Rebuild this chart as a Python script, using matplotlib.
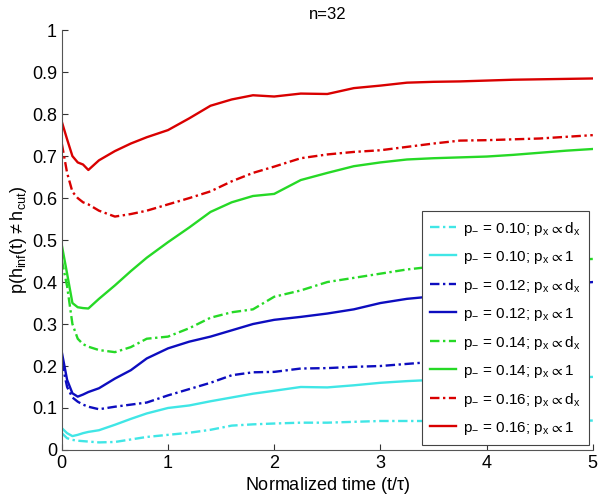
import numpy as np
import matplotlib
matplotlib.use("Agg")
import matplotlib.pyplot as plt

plt.rcParams['font.family'] = ['Liberation Sans', 'DejaVu Sans']
plt.rcParams['mathtext.default'] = 'regular'

# normalized time grid
t = [0, 0.05, 0.1, 0.15, 0.2, 0.25, 0.35, 0.5, 0.65, 0.8, 1.0, 1.2, 1.4, 1.6,
     1.8, 2.0, 2.25, 2.5, 2.75, 3.0, 3.25, 3.5, 3.75, 4.0, 4.25, 4.5, 4.75, 5.0]

# p_ = 0.10
c_dx = [0.040, 0.028, 0.024, 0.022, 0.021, 0.020, 0.018, 0.019, 0.025, 0.031, 0.036, 0.041, 0.048, 0.058,
        0.061, 0.063, 0.065, 0.065, 0.067, 0.069, 0.069, 0.069, 0.069, 0.070, 0.070, 0.070, 0.070, 0.070]
c_1 = [0.052, 0.040, 0.033, 0.036, 0.040, 0.043, 0.047, 0.060, 0.074, 0.087, 0.100, 0.106, 0.116, 0.125,
       0.134, 0.141, 0.150, 0.149, 0.154, 0.160, 0.164, 0.167, 0.168, 0.170, 0.171, 0.172, 0.173, 0.174]
# p_ = 0.12
b_dx = [0.210, 0.150, 0.125, 0.115, 0.108, 0.103, 0.097, 0.103, 0.108, 0.113, 0.130, 0.145, 0.160, 0.178,
        0.185, 0.186, 0.194, 0.195, 0.198, 0.200, 0.205, 0.210, 0.210, 0.210, 0.210, 0.210, 0.210, 0.210]
b_1 = [0.233, 0.167, 0.135, 0.127, 0.132, 0.138, 0.147, 0.170, 0.190, 0.218, 0.242, 0.258, 0.270, 0.285,
       0.300, 0.310, 0.317, 0.325, 0.335, 0.350, 0.360, 0.366, 0.372, 0.378, 0.384, 0.390, 0.395, 0.400]
# p_ = 0.14
g_dx = [0.452, 0.390, 0.300, 0.265, 0.252, 0.246, 0.238, 0.233, 0.245, 0.265, 0.270, 0.290, 0.315, 0.328,
        0.335, 0.365, 0.380, 0.400, 0.410, 0.420, 0.430, 0.437, 0.442, 0.445, 0.448, 0.450, 0.453, 0.455]
g_1 = [0.488, 0.420, 0.350, 0.340, 0.338, 0.337, 0.360, 0.392, 0.426, 0.458, 0.495, 0.530, 0.567, 0.590,
       0.605, 0.610, 0.643, 0.660, 0.676, 0.685, 0.692, 0.695, 0.697, 0.699, 0.703, 0.708, 0.713, 0.717]
# p_ = 0.16
r_dx = [0.730, 0.660, 0.615, 0.600, 0.590, 0.585, 0.570, 0.556, 0.562, 0.570, 0.585, 0.600, 0.616, 0.640,
        0.660, 0.675, 0.695, 0.704, 0.710, 0.714, 0.722, 0.730, 0.737, 0.738, 0.740, 0.742, 0.746, 0.750]
r_1 = [0.782, 0.740, 0.700, 0.685, 0.680, 0.667, 0.690, 0.712, 0.730, 0.745, 0.762, 0.790, 0.820, 0.835,
       0.845, 0.842, 0.849, 0.848, 0.862, 0.868, 0.875, 0.877, 0.878, 0.880, 0.882, 0.883, 0.884, 0.885]

cyan = (0.25, 0.9, 0.9)
blue = (0.05, 0.05, 0.75)
green = (0.15, 0.85, 0.15)
red = (0.85, 0.0, 0.0)
dd = (4, 1.5, 1, 1.5)

fig = plt.figure(figsize=(6, 4.95), dpi=100)
ax = fig.add_axes([0.103, 0.091, 0.885, 0.848])

ax.plot(t, c_dx, color=cyan, lw=1.7, dashes=dd, label=r'$p_{-}$ = 0.10; $p_x \propto d_x$')
ax.plot(t, c_1, color=cyan, lw=1.7, label=r'$p_{-}$ = 0.10; $p_x \propto 1$')
ax.plot(t, b_dx, color=blue, lw=1.7, dashes=dd, label=r'$p_{-}$ = 0.12; $p_x \propto d_x$')
ax.plot(t, b_1, color=blue, lw=1.7, label=r'$p_{-}$ = 0.12; $p_x \propto 1$')
ax.plot(t, g_dx, color=green, lw=1.7, dashes=dd, label=r'$p_{-}$ = 0.14; $p_x \propto d_x$')
ax.plot(t, g_1, color=green, lw=1.7, label=r'$p_{-}$ = 0.14; $p_x \propto 1$')
ax.plot(t, r_dx, color=red, lw=1.7, dashes=dd, label=r'$p_{-}$ = 0.16; $p_x \propto d_x$')
ax.plot(t, r_1, color=red, lw=1.7, label=r'$p_{-}$ = 0.16; $p_x \propto 1$')

ax.set_xlim(0, 5)
ax.set_ylim(0, 1)
ax.set_xticks([0, 1, 2, 3, 4, 5])
ax.set_yticks(np.arange(0, 1.01, 0.1))
ax.set_yticklabels(['0', '0.1', '0.2', '0.3', '0.4', '0.5', '0.6', '0.7', '0.8', '0.9', '1'])
ax.tick_params(direction='in', length=4, labelsize=13, colors='#333333', labelcolor='black')
ax.spines['top'].set_visible(False)
ax.spines['right'].set_visible(False)
for s in ['left', 'bottom']:
    ax.spines[s].set_color('#555555')

ax.set_xlabel(r'Normalized time (t/$\tau$)', fontsize=13, labelpad=2)
ax.set_ylabel(r'$p(h_{inf}(t) \neq h_{cut})$', fontsize=13, labelpad=2)
ax.set_title('n=32', fontsize=12, pad=8)

leg = ax.legend(loc='lower right', bbox_to_anchor=(0.992, 0.012), borderaxespad=0,
                fontsize=11, fancybox=False, framealpha=1, edgecolor='#444444',
                handlelength=1.7, handletextpad=0.45, labelspacing=0.72,
                borderpad=0.55)
leg.get_frame().set_linewidth(0.8)

fig.savefig('out.png', dpi=100)
